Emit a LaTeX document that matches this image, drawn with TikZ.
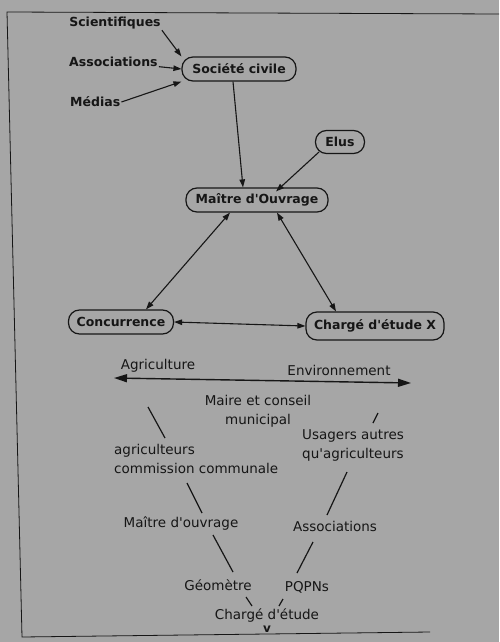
\documentclass[tikz,border=0pt]{standalone}
\usepackage{fontspec}
\setmainfont{DejaVu Sans}[Ligatures=TeXOff]
\usetikzlibrary{arrows.meta}
\definecolor{paper}{RGB}{166,166,166}
\definecolor{ink}{RGB}{22,22,22}

\begin{document}
\begin{tikzpicture}[x=1pt,y=-1pt]
\tikzstyle{boxStyle}=[draw=ink, line width=1.2pt, rounded corners=11pt, minimum height=24pt, inner sep=2pt, font=\bfseries\fontsize{12.5}{14}\selectfont, text=ink]
\tikzstyle{actorStyle}=[inner sep=1pt, font=\bfseries\fontsize{12.5}{14}\selectfont, text=ink]
\tikzstyle{textStyle}=[inner sep=1pt, align=left, font=\fontsize{13.5}{19}\selectfont, text=ink]
\tikzstyle{arrowStyle}=[draw=ink, line width=1.1pt, -{Triangle[length=8pt,width=5.5pt]}]
\tikzstyle{bothStyle}=[draw=ink, line width=1.1pt, {Triangle[length=8pt,width=5.5pt]}-{Triangle[length=8pt,width=5.5pt]}]
\tikzstyle{branchStyle}=[draw=ink, line width=1.2pt]
\fill[paper] (0,0) rectangle (499,642);
\useasboundingbox (0,0) rectangle (499,642);
% frame of the page
\draw[ink, line width=0.8pt] (499,14) -- (7,12) -- (22,637) -- (430,632);
% upper diagram
\node[actorStyle] (scient) at (115,23) {Scientifiques};
\node[actorStyle, anchor=west] (assoc) at (68,62) {Associations};
\node[actorStyle, anchor=west] (medias) at (69,102) {Médias};
\node[boxStyle, minimum width=114pt] (societe) at (239,69) {Société civile};
\node[boxStyle, minimum width=49pt, minimum height=23pt] (elus) at (340,142) {Elus};
\node[boxStyle, minimum width=142pt] (maitre) at (257,200) {Maître d'Ouvrage};
\node[boxStyle, minimum width=105pt] (concur) at (121,322) {Concurrence};
\node[boxStyle, minimum width=138pt, minimum height=28pt] (charge) at (375,326) {Chargé d'étude X};
\draw[arrowStyle] (scient.south east) -- (societe.north west);
\draw[arrowStyle] (assoc) -- (societe.west);
\draw[arrowStyle] (medias.east) -- (societe.south west);
\draw[arrowStyle] (societe.south) ++(-6,0) -- ([xshift=-14pt]maitre.north);
\draw[arrowStyle] (elus.south west) ++(4,-2) -- ([xshift=19pt,yshift=-4pt]maitre.north);
\draw[bothStyle] ([xshift=-27pt]maitre.south) -- ([xshift=25pt]concur.north);
\draw[bothStyle] ([xshift=20pt]maitre.south) -- ([xshift=-39pt]charge.north);
\draw[bothStyle] (concur.east) -- (charge.west);
% lower diagram
\node[textStyle] (agri) at (158,366) {Agriculture};
\node[textStyle] (envir) at (339,370) {Environnement};
\coordinate (axeA) at (114,378);
\coordinate (axeB) at (411,383);
\draw[draw=ink, line width=1.4pt, {Triangle[length=13pt,width=8pt]}-{Triangle[length=13pt,width=8pt]}] (axeA) -- (axeB);
\node[textStyle, align=center] (maire) at (258,411) {Maire et conseil\\municipal};
\node[textStyle, anchor=west] (agricom) at (113,459) {agriculteurs\\commission communale};
\node[textStyle, anchor=west] (usagers) at (301,445) {Usagers autres\\qu'agriculteurs};
\node[textStyle] (mouvrage) at (181,523) {Maître d'ouvrage};
\node[textStyle] (assocs) at (335,526) {Associations};
\node[textStyle] (geometre) at (218,585) {Géomètre};
\node[textStyle] (pqpn) at (307,587) {PQPNs};
\node[textStyle] (chetude) at (267,615) {Chargé d'étude};
\node[textStyle, inner sep=0pt, font=\bfseries\fontsize{12}{12}\selectfont] (fin) at (267,629) {v};
\coordinate (l1a) at (148,407); \coordinate (l1b) at (165,438);
\coordinate (r1a) at (378,413); \coordinate (r1b) at (373,423);
\coordinate (l2a) at (187,483); \coordinate (l2b) at (202,513);
\coordinate (r2a) at (347,472); \coordinate (r2b) at (327,515);
\coordinate (l3a) at (213,535); \coordinate (l3b) at (233,572);
\coordinate (r3a) at (313,542); \coordinate (r3b) at (297,573);
\coordinate (l4a) at (246,597); \coordinate (l4b) at (252,606);
\coordinate (r4a) at (283,599); \coordinate (r4b) at (279,606);
\draw[branchStyle] (l1a) -- (l1b);
\draw[branchStyle] (r1a) -- (r1b);
\draw[branchStyle] (l2a) -- (l2b);
\draw[branchStyle] (r2a) -- (r2b);
\draw[branchStyle] (l3a) -- (l3b);
\draw[branchStyle] (r3a) -- (r3b);
\draw[branchStyle] (l4a) -- (l4b);
\draw[branchStyle] (r4a) -- (r4b);
\end{tikzpicture}
\end{document}
